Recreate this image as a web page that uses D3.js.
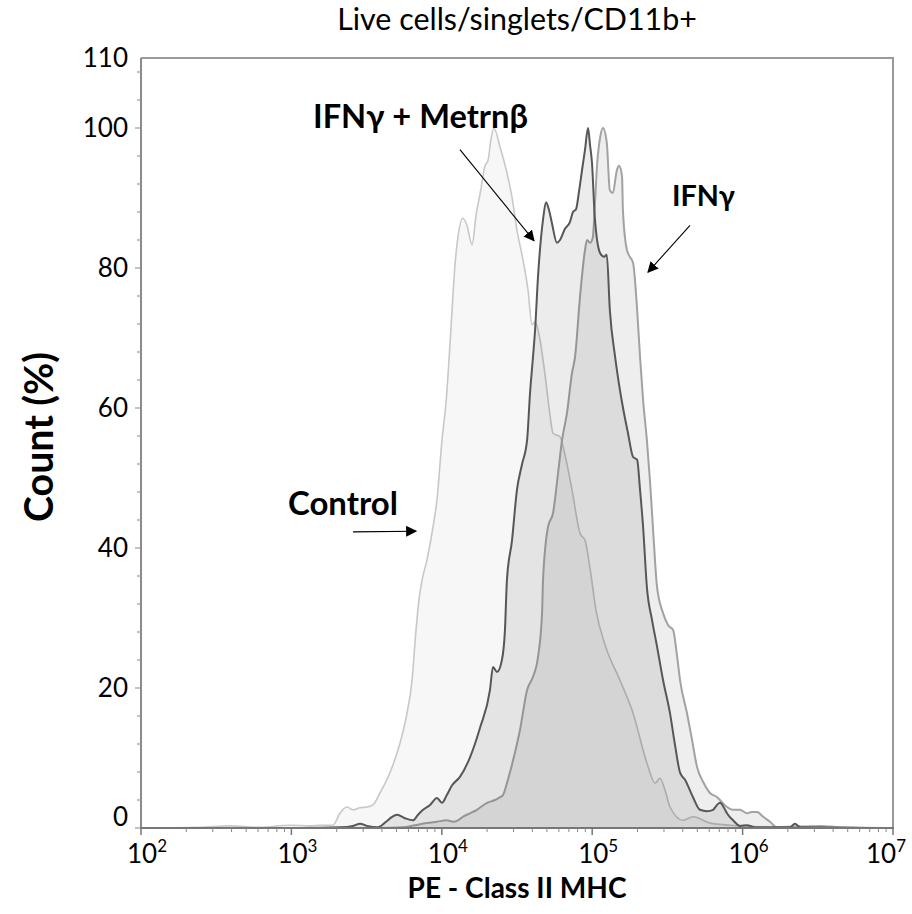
<!DOCTYPE html>
<html><head><meta charset="utf-8">
<script src="https://cdn.jsdelivr.net/npm/d3@7"></script>
<style>body{margin:0;background:#fff}svg{display:block}text{font-family:Lato,"Open Sans",sans-serif;fill:#000}</style>
</head><body><svg id="c" width="912" height="914"></svg>
<script>
// ---- data (fluorescence intensity, % of max count) ----
const controlX = [100,247,391,618,979,1330,1550,1890,2100,2340,2570,2860,3180,3490,3880,4520,5270,5870,6340,6740,7050,7390,7970,8740,9290,10030,10700,11200,11700,12200,12800,13800,14700,15900,16900,18000,19400,20300,21200,22200,24400,27100,29300,31600,34700,37400,39800,41700,45000,48600,52400,54900,61100,65900,73400,83000,89600,96700,106000,122000,153000,187000,231000,262000,282000,305000,329000,402000,468000,607000,961000,1.52e6,2.41e6,3.81e6,1e7];
const controlY = [0,0.1,0.3,0.1,0.4,0.3,0.4,0.4,2.1,3.0,2.6,2.9,3.0,3.3,5.0,7.9,12.1,16.4,21.1,28.3,32.6,35.4,38.3,43.0,46.9,55.4,61.1,67.3,74.0,80.1,84.4,87.1,86.1,83.3,87.6,90.7,94.6,95.4,98.3,100,97.3,93.6,90.1,85.4,81.1,76.9,71.9,72.3,69.7,64.7,59.0,56.4,55.9,53.3,48.3,42.1,41.1,37.1,31.1,26.1,21.1,16.4,9.3,6.4,7.1,5.4,3.0,1.1,1.6,0.7,0.3,0.1,0.3,0.1,0];

const metrnX = [100,1140,2100,2570,2860,3180,3760,4260,4670,5040,5690,6440,6950,7500,8350,9290,10030,10800,11700,13200,15400,18000,20900,21900,23300,25100,26300,27100,29300,31600,34100,36900,38600,40400,41700,43600,47100,49300,51600,54000,58300,61100,65900,71200,74500,78100,81700,85600,89600,93800,96700,99700,104000,113000,120000,125000,131000,142000,151000,160000,173000,187000,199000,208000,218000,231000,250000,270000,296000,329000,355000,384000,414000,468000,521000,580000,636000,676000,707000,752000,787000,864000,961000,1.07e6,1.21e6,2.07e6,2.23e6,2.41e6,1e7];
const metrnY = [0,0,0.1,0.3,0.6,0.3,0.1,0.9,1.6,1.9,1.4,1.1,1.9,2.6,3.3,4.3,3.6,4.7,6.1,7.3,10.1,14.4,19.7,23.0,22.3,24.0,28.3,35.4,41.1,48.3,51.9,55.4,62.1,67.3,71.1,78.7,86.9,89.4,88.3,86.4,83.6,84.0,85.6,86.6,88.0,88.4,90.9,94.0,96.9,100,97.6,95.0,87.3,82.1,81.6,81.9,74.0,67.3,63.3,60.1,56.4,53.0,52.6,48.3,43.0,34.4,29.7,25.9,21.1,16.4,11.9,7.9,6.9,4.4,2.6,2.4,2.6,3.3,3.6,2.9,2.1,1.1,0.3,0.4,0.1,0.1,0.6,0.1,0];

const ifngX = [100,3880,5520,6630,7970,9290,10800,11900,12800,13800,15400,17100,20000,22600,24400,25500,27100,29800,33100,36900,40400,43600,46400,47100,50800,54900,59300,63000,68000,73400,76900,83000,89600,92400,96700,101000,104000,108000,113000,118000,125000,131000,137000,146000,151000,158000,160000,170000,178000,187000,199000,208000,218000,231000,242000,254000,270000,296000,319000,345000,366000,384000,427000,461000,498000,546000,607000,678000,707000,787000,864000,961000,1.07e6,1.15e6,1.25e6,1.37e6,1.52e6,1.69e6,2.41e6,3.27e6,4.44e6,1e7];
const ifngY = [0,0,0.1,0.4,0.7,0.9,1.1,0.9,1.1,1.6,2.1,2.6,3.6,4.0,4.4,4.7,6.4,9.7,14.0,19.7,21.6,24.4,30.7,35.4,43.0,45.0,50.7,55.4,59.3,65.0,67.3,75.9,82.6,84.0,83.6,84.4,88.7,95.0,98.7,100,97.9,91.1,90.7,94.0,94.6,93.0,88.3,82.6,81.6,80.7,74.0,67.3,61.1,55.4,49.7,42.6,34.4,30.7,29.0,28.3,24.7,21.1,16.4,12.6,8.7,6.6,5.0,4.4,4.0,3.0,2.6,2.6,2.1,2.3,2.3,1.6,0.9,0.1,0.1,0.3,0.1,0];

const xTickExponents = [2,3,4,5,6,7];
const yTickLabels = [0,20,40,60,80,100,110];
const titleText = "Live cells/singlets/CD11b+";
const xTitle = "PE - Class II MHC";
const yTitle = "Count (%)";
const labels = [
  {text:"IFNγ + Metrnβ", x:1392, y:100.0, ax0:[13200,96.9], ax1:[41000,83.9]},
  {text:"IFNγ", x:339000, y:88.9, ax0:[447000,86.1], ax1:[235000,79.4]},
  {text:"Control", x:949, y:44.7, ax0:[2570,42.3], ax1:[6740,42.4]}
];

// ---- layout ----
const svg = d3.select("#c");
const x = d3.scaleLog().domain([1e2,1e7]).range([141,893]);
const y = d3.scaleLinear().domain([0,110]).range([828,58]);

svg.append("defs").append("clipPath").attr("id","clip")
  .append("rect").attr("x",141).attr("y",58).attr("width",752).attr("height",770);
const marker = svg.select("defs").append("marker").attr("id","arr")
  .attr("viewBox","0 0 10 10").attr("refX",9).attr("refY",5)
  .attr("markerWidth",11).attr("markerHeight",11).attr("markerUnits","userSpaceOnUse")
  .attr("orient","auto");
marker.append("path").attr("d","M0,0L10,5L0,10z").attr("fill","#000");

const series = [
  {xs:controlX, ys:controlY, fill:"rgba(0,0,0,0.03)", stroke:"#c8c8c8", w:1.6},
  {xs:ifngX, ys:ifngY, fill:"rgba(0,0,0,0.065)", stroke:"#a2a2a2", w:2},
  {xs:metrnX, ys:metrnY, fill:"rgba(0,0,0,0.075)", stroke:"#575757", w:2}
];
const g = svg.append("g").attr("clip-path","url(#clip)");
series.forEach(s=>{
  const pts = s.xs.map((v,i)=>[v,s.ys[i]]);
  const area = d3.area().x(d=>x(d[0])).y0(y(0)).y1(d=>y(d[1])).curve(d3.curveMonotoneX);
  const line = d3.line().x(d=>x(d[0])).y(d=>y(d[1])).curve(d3.curveMonotoneX);
  g.append("path").attr("d",area(pts)).attr("fill",s.fill);
  g.append("path").attr("d",line(pts)).attr("fill","none").attr("stroke",s.stroke).attr("stroke-width",s.w).attr("stroke-linejoin","round");
});

// frame
svg.append("path").attr("d",`M141,${y(110)}H893V${y(0)}`).attr("fill","none").attr("stroke","#999").attr("stroke-width",2);
svg.append("line").attr("x1",141).attr("x2",141).attr("y1",y(110)).attr("y2",y(0)+1).attr("stroke","#8a8a8a").attr("stroke-width",2);
svg.append("line").attr("x1",140).attr("x2",894).attr("y1",y(0)).attr("y2",y(0)).attr("stroke","#777").attr("stroke-width",2);

// y ticks
d3.range(0,110,4).forEach(v=>{
  const major = v%20===0;
  svg.append("line").attr("x1",141-(major?6:4)).attr("x2",141).attr("y1",y(v)).attr("y2",y(v)).attr("stroke","#999").attr("stroke-width",1.2);
});
yTickLabels.forEach(v=>{
  svg.append("text").attr("x",128).attr("y",y(v)+(v===0?-11:0)).attr("dy","0.36em")
    .attr("text-anchor","end").attr("font-size",26).text(v);
});
// x ticks
xTickExponents.forEach((e,i)=>{
  const v = Math.pow(10,e);
  const last = i===xTickExponents.length-1;
  svg.append("line").attr("x1",x(v)).attr("x2",x(v)).attr("y1",y(0)).attr("y2",y(0)+7).attr("stroke","#777").attr("stroke-width",1.5);
  if(!last){
    for(let k=2;k<10;k++){
      svg.append("line").attr("x1",x(k*v)).attr("x2",x(k*v)).attr("y1",y(0)).attr("y2",y(0)+4).attr("stroke","#888").attr("stroke-width",1);
    }
  }
  const t = svg.append("text").attr("y",863).attr("font-size",26)
    .attr("x", last ? 906 : x(v)-14).attr("text-anchor", last ? "end" : "start");
  t.append("tspan").text("10");
  t.append("tspan").attr("font-size",17).attr("dy",-11).text(e);
});

function fit(t,w){const l=t.node().getComputedTextLength();t.attr("font-size",parseFloat(t.attr("font-size"))*w/l);}

// title
const tt = svg.append("text").attr("x",517).attr("y",30).attr("text-anchor","middle").attr("font-size",24).text(titleText);
fit(tt,360);
// axis titles
const xt = svg.append("text").attr("x",517).attr("y",898).attr("text-anchor","middle").attr("font-size",30).attr("font-weight","bold").text(xTitle);
fit(xt,219);
const yt = svg.append("text").attr("transform","translate(53,437) rotate(-90)").attr("text-anchor","middle").attr("font-size",30).attr("font-weight","bold").text(yTitle);
fit(yt,170);

// annotations
const widths = {"IFNγ + Metrnβ":215,"IFNγ":63,"Control":110};
labels.forEach(a=>{
  const t = svg.append("text").attr("x",x(a.x)).attr("y",y(a.y)).attr("font-size",30).attr("font-weight","bold").text(a.text);
  fit(t,widths[a.text]);
  svg.append("line").attr("x1",x(a.ax0[0])).attr("y1",y(a.ax0[1])).attr("x2",x(a.ax1[0])).attr("y2",y(a.ax1[1]))
    .attr("stroke","#000").attr("stroke-width",1.1).attr("marker-end","url(#arr)");
});
</script></body></html>
